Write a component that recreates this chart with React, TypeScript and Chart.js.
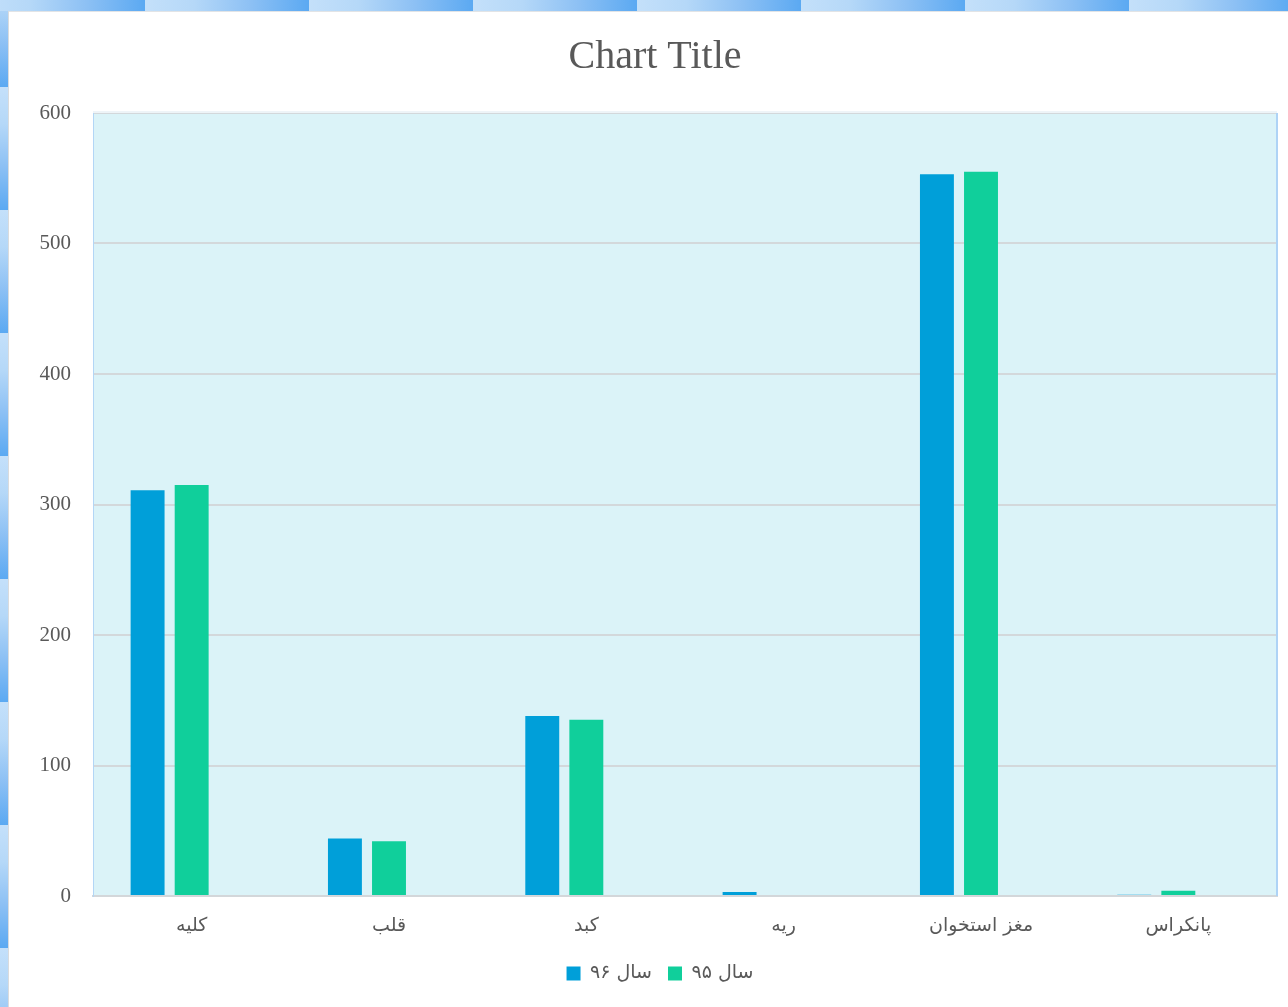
import React, { useEffect, useRef } from "react";
import { Chart, registerables } from "chart.js";

Chart.register(...registerables);

const chartTitle = "Chart Title";
const categories = ["کلیه", "قلب", "کبد", "ریه", "مغز استخوان", "پانکراس"];
const seriesNames = ["سال ۹۶", "سال ۹۵", ""];
const values96 = [311, 44, 138, 3, 553, 1];
const values95 = [315, 42, 135, 0, 555, 4];
const valuesEmpty = [0, 0, 0, 0, 0, 0];
const yTicks = [0, 100, 200, 300, 400, 500, 600];

const plotBg = {
  id: "plotBg",
  afterLayout(chart: any) {
    if (chart.legend) {
      chart.legend.left += 17;
      chart.legend.right += 17;
    }
  },
  beforeDraw(chart: any) {
    const { ctx, chartArea } = chart;
    if (!chartArea) return;
    ctx.save();
    ctx.fillStyle = "#DBF3F8";
    ctx.fillRect(chartArea.left, chartArea.top, chartArea.right - chartArea.left, chartArea.bottom - chartArea.top);
    ctx.restore();
  },
  afterDraw(chart: any) {
    const { ctx, chartArea } = chart;
    if (!chartArea) return;
    ctx.save();
    ctx.strokeStyle = "#EEF4F8";
    ctx.lineWidth = 2;
    ctx.beginPath();
    ctx.moveTo(chartArea.left, chartArea.top - 1);
    ctx.lineTo(chartArea.right, chartArea.top - 1);
    ctx.stroke();
    ctx.strokeStyle = "#AED3F6";
    ctx.lineWidth = 2;
    ctx.beginPath();
    ctx.moveTo(chartArea.right, chartArea.top);
    ctx.lineTo(chartArea.right, chartArea.bottom);
    ctx.stroke();
    // title
    ctx.fillStyle = "#595959";
    ctx.font = "40px 'Liberation Serif', serif";
    ctx.textAlign = "center";
    ctx.textBaseline = "middle";
    ctx.fillText(chartTitle, 646, 45);
    ctx.restore();
  },
};

export default function App() {
  const ref = useRef<HTMLCanvasElement | null>(null);
  useEffect(() => {
    if (!ref.current) return;
    const chart = new Chart(ref.current, {
      type: "bar",
      data: {
        labels: categories,
        datasets: [
          { label: seriesNames[0], data: values96, backgroundColor: "#009FD9", borderWidth: 0 },
          { label: seriesNames[1], data: values95, backgroundColor: "#10CF9B", borderWidth: 0 },
          { label: seriesNames[2], data: valuesEmpty, backgroundColor: "rgba(0,0,0,0)", borderWidth: 0 },
        ],
      },
      plugins: [plotBg],
      options: {
        responsive: false,
        animation: false,
        devicePixelRatio: 1,
        layout: { padding: { left: 0, right: 11, top: 101, bottom: 14 } },
        datasets: { bar: { categoryPercentage: 0.67, barPercentage: 0.77 } },
        plugins: {
          title: { display: false },
          legend: {
            position: "bottom",
            labels: {
              color: "#595959",
              font: { family: "'DejaVu Sans', sans-serif", size: 19 },
              boxWidth: 14,
              boxHeight: 14,
              padding: 16,
              filter: (item: any) => item.text !== "",
            },
          },
          tooltip: { enabled: false },
        },
        scales: {
          x: {
            grid: { display: false, drawTicks: false },
            border: { display: true, color: "#D3D7DA", width: 2 },
            ticks: {
              color: "#595959",
              font: { family: "'DejaVu Sans', sans-serif", size: 19 },
              padding: 19,
            },
            afterFit: (s: any) => { s.height = 52; },
          },
          y: {
            min: 0,
            max: 600,
            afterBuildTicks: (s: any) => { s.ticks = yTicks.map((v) => ({ value: v })); },
            grid: { color: "#D3D8DB", lineWidth: 2, drawTicks: false },
            border: { display: true, color: "#B3D6F6", width: 1 },
            ticks: {
              color: "#595959",
              font: { family: "'Liberation Serif', serif", size: 21 },
              padding: 22,
            },
            afterFit: (s: any) => { s.width = 84; },
          },
        },
      },
    });
    return () => chart.destroy();
  }, []);

  return (
    <div style={{ position: "absolute", left: 0, top: 0, width: 1288, height: 1007, background: "#fff", overflow: "hidden" }}>
      <div
        style={{
          position: "absolute", left: 0, top: 0, width: 1288, height: 11,
          backgroundImage: "linear-gradient(to right, #C4E0FA 0%, #B5D8F8 30%, #8CC0F4 65%, #5BA9F2 100%)",
          backgroundSize: "164px 11px",
          backgroundPosition: "-19px 0",
          backgroundRepeat: "repeat-x",
        }}
      />
      <div
        style={{
          position: "absolute", left: 0, top: 11, width: 8, height: 996,
          backgroundImage: "linear-gradient(to bottom, #C4E0FA 0%, #B5D8F8 30%, #8CC0F4 65%, #5BA9F2 100%)",
          backgroundSize: "8px 123px",
          backgroundPosition: "0 76px",
          backgroundRepeat: "repeat-y",
        }}
      />
      <div style={{ position: "absolute", left: 8, top: 11, width: 1280, height: 1, background: "#E2E4E6" }} />
      <div style={{ position: "absolute", left: 8, top: 11, width: 1, height: 996, background: "#D9DBDD" }} />
      <canvas ref={ref} width={1279} height={995} style={{ position: "absolute", left: 9, top: 12, width: 1279, height: 995 }} />
    </div>
  );
}
